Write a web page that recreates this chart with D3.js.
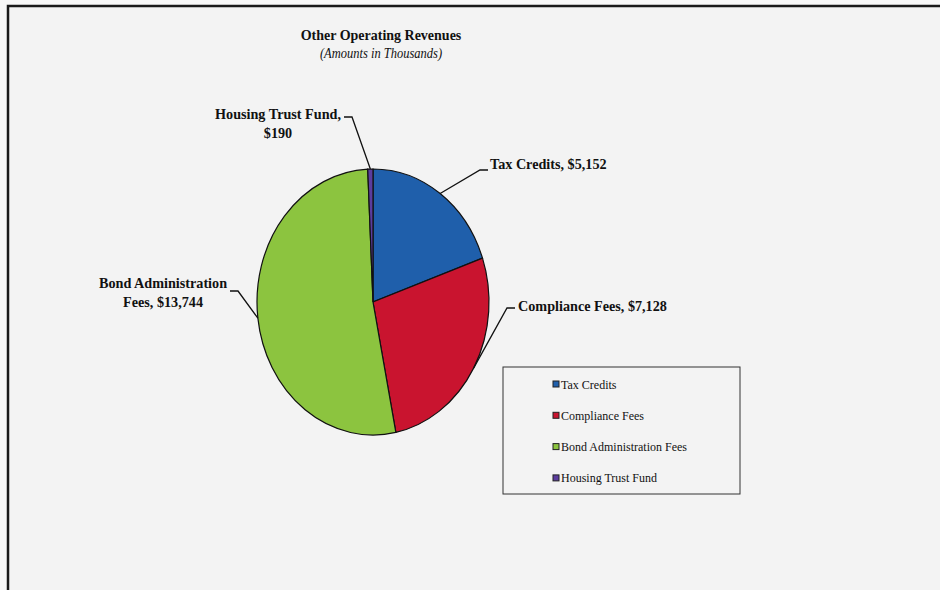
<!DOCTYPE html>
<html>
<head>
<meta charset="utf-8">
<script src="https://cdn.jsdelivr.net/npm/d3@7"></script>
<style>
  html, body { margin: 0; padding: 0; background: #f8f8f8; }
  svg { display: block; }
  text { font-family: "Liberation Serif", "Times New Roman", serif; fill: #111; }
</style>
</head>
<body>
<svg id="chart" width="940" height="590"></svg>
<script>
// Other operating revenues, amounts in thousands
const categories = ["Tax Credits", "Compliance Fees", "Bond Administration Fees", "Housing Trust Fund"];
const values = [5152, 7128, 13744, 190];
const colors = ["#1f5fab", "#c9142f", "#8cc43f", "#5b3c9e"];
// data label text, split into lines
const labelLines = [
  ["Tax Credits, $5,152"],
  ["Compliance Fees, $7,128"],
  ["Bond Administration", "Fees, $13,744"],
  ["Housing Trust Fund,", "$190"]
];

const svg = d3.select("#chart");
const W = 940, H = 590;
const stretchY = 1.1; // slightly tall lettering

// panel and frame
svg.append("rect").attr("x", 7).attr("y", 5).attr("width", W - 7).attr("height", H - 5)
  .attr("fill", "#f3f3f3");
svg.append("path")
  .attr("d", `M8,${H} L8,6 L${W},6`)
  .attr("fill", "none").attr("stroke", "#1a1a1a").attr("stroke-width", 2.5);

// text placed at (x, y) with a small vertical stretch
function tallText(parent, x, y) {
  return parent.append("text")
    .attr("transform", `translate(${x},${y}) scale(1,${stretchY})`);
}

// titles
tallText(svg, 381, 40).attr("text-anchor", "middle")
  .attr("font-size", 14).attr("font-weight", "bold").text("Other Operating Revenues");
tallText(svg, 381, 58).attr("text-anchor", "middle")
  .attr("font-size", 12.5).attr("font-style", "italic").text("(Amounts in Thousands)");

// elliptical pie: draw a circle of radius ry and stretch horizontally
const cx = 373, cy = 302, rx = 116, ry = 133;
const pie = d3.pie().sort(null).value(d => d).startAngle(0).endAngle(2 * Math.PI);
const arcs = pie(values);
const arc = d3.arc().innerRadius(0).outerRadius(ry);

const g = svg.append("g").attr("transform", `translate(${cx},${cy}) scale(${rx / ry},1)`);
g.selectAll("path.slice").data(arcs).join("path")
  .attr("class", "slice")
  .attr("d", arc)
  .attr("fill", (d, i) => colors[i])
  .attr("stroke", "#111")
  .attr("stroke-width", 1.2)
  .attr("vector-effect", "non-scaling-stroke");

// point on the ellipse rim at a given pie angle
function rim(a) {
  return [cx + rx * Math.sin(a), cy - ry * Math.cos(a)];
}

// label layout: text anchor position, alignment, and leader elbow
const labelLayout = [
  { x: 490, y: 169, anchor: "start", elbow: [[480, 170], [488, 170]] },
  { x: 518, y: 311, anchor: "start", elbow: [[507, 308], [515, 308]] },
  { x: 163, y: 288, anchor: "middle", elbow: [[238, 291], [230, 291]] },
  { x: 278, y: 119, anchor: "middle", elbow: [[352, 117], [344, 117]] }
];

arcs.forEach((d, i) => {
  const L = labelLayout[i];
  const mid = (d.startAngle + d.endAngle) / 2;
  const p = rim(mid);
  const pts = [p, ...L.elbow];
  svg.append("path")
    .attr("d", d3.line()(pts))
    .attr("fill", "none").attr("stroke", "#111").attr("stroke-width", 1.3);
  const t = tallText(svg, L.x, L.y)
    .attr("text-anchor", L.anchor)
    .attr("font-size", 14.2).attr("font-weight", "bold");
  labelLines[i].forEach((line, k) => {
    t.append("tspan").attr("x", 0).attr("dy", k === 0 ? 0 : 19 / stretchY).text(line);
  });
});

// legend
const lg = svg.append("g").attr("transform", "translate(503,367)");
lg.append("rect").attr("width", 237).attr("height", 127)
  .attr("fill", "none").attr("stroke", "#333").attr("stroke-width", 1);
const items = lg.selectAll("g.item").data(categories).join("g")
  .attr("class", "item")
  .attr("transform", (d, i) => `translate(50,${17 + i * 31.3})`);
items.append("rect").attr("x", 0).attr("y", -3).attr("width", 6).attr("height", 6)
  .attr("fill", (d, i) => colors[i]).attr("stroke", "#222").attr("stroke-width", 1);
items.append("text")
  .attr("transform", `translate(8,4.5) scale(1,${stretchY})`)
  .attr("font-size", 12).text(d => d);
</script>
</body>
</html>
